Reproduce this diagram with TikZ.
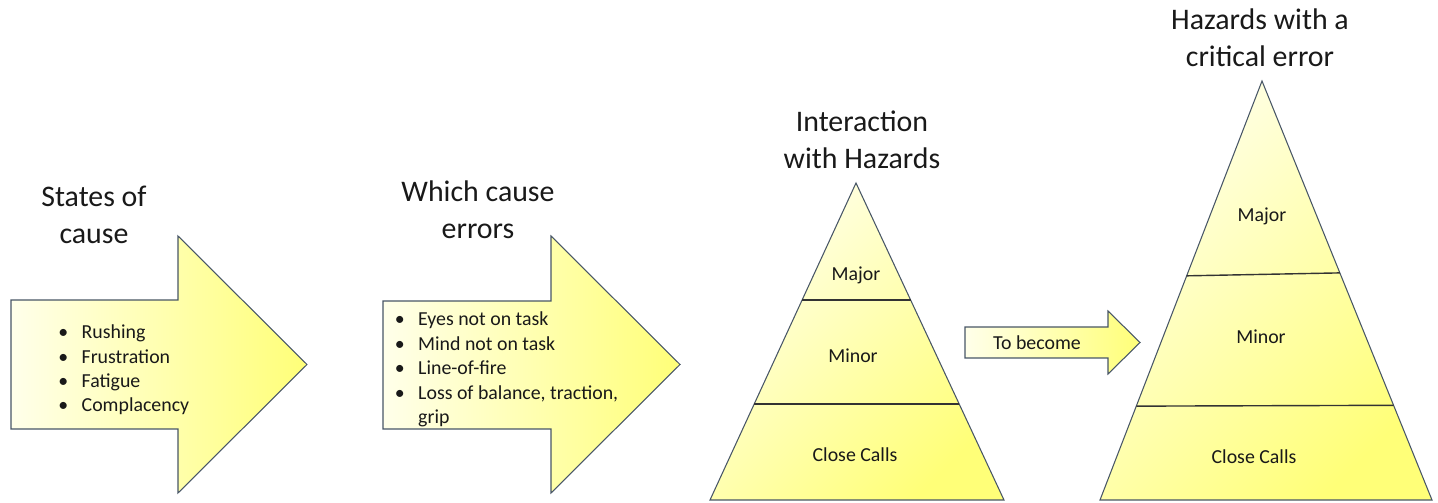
\documentclass[tikz,border=0pt]{standalone}
\usepackage{fontspec}
\setmainfont{Carlito}
\usetikzlibrary{calc}
\definecolor{paleyel}{RGB}{255,255,234}
\definecolor{deepyel}{RGB}{255,255,120}
\definecolor{edgeblue}{RGB}{72,86,102}
\newcommand{\blt}{\makebox[13.3pt][l]{\textbullet}}

\begin{document}
\begin{tikzpicture}[x=0.02cm,y=-0.02cm,
    yelshape/.style={draw=edgeblue,line width=0.6pt,left color=paleyel,right color=deepyel},
    yelpyr/.style={yelshape,shading angle=45},
    tierline/.style={draw=black!80,line width=0.8pt},
    heading/.style={align=center,font=\fontsize{17}{20.8}\selectfont,text=black!90,inner sep=0pt},
    tiertext/.style={font=\fontsize{11.3}{13.9}\selectfont,text=black!90,inner sep=0pt,anchor=base},
    bullets/.style={align=left,font=\fontsize{11.3}{13.9}\selectfont,text=black!90,inner sep=0pt,anchor=west}]
  \useasboundingbox (0,0) rectangle (1438,503);

  \shadedraw[yelshape] (11,300) -- (178,300) -- (178,236) -- (307,364.5) -- (178,493) -- (178,429) -- (11,429) -- cycle;
  \shadedraw[yelshape] (383,301) -- (551,301) -- (551,236) -- (680,364.5) -- (551,493) -- (551,429) -- (383,429) -- cycle;
  \shadedraw[yelshape] (965,327) -- (1108,327) -- (1108,311) -- (1140,342.5) -- (1108,374) -- (1108,358) -- (965,358) -- cycle;

  \coordinate (pa) at (856,183);
  \coordinate (pal) at (710,500);
  \coordinate (par) at (1004,500);
  \coordinate (pb) at (1262,81);
  \coordinate (pbl) at (1100,500);
  \coordinate (pbr) at (1432,500);
  \shadedraw[yelpyr] (pa) -- (par) -- (pal) -- cycle;
  \shadedraw[yelpyr] (pb) -- (pbr) -- (pbl) -- cycle;
  \draw[tierline] ($(pa)!0.369!(pal)$) -- ($(pa)!0.369!(par)$);
  \draw[tierline] ($(pa)!0.697!(pal)$) -- ($(pa)!0.697!(par)$);
  \draw[tierline] ($(pb)!0.465!(pbl)$) -- ($(pb)!0.458!(pbr)$);
  \draw[tierline] ($(pb)!0.776!(pbl)$) -- ($(pb)!0.774!(pbr)$);

  \node[heading] (states) at (94,215) {States of\\cause};
  \node[heading] (which) at (478,210) {Which cause\\errors};
  \node[heading] (inter) at (862,140) {Interaction\\with Hazards};
  \node[heading] (crit) at (1260,38) {Hazards with a\\critical error};

  \node[bullets] (causes) at (58,370) {\blt Rushing\\\blt Frustration\\\blt Fatigue\\\blt Complacency};
  \node[bullets] (errors) at (394.5,369.5) {\blt Eyes not on task\\\blt Mind not on task\\\blt Line-of-fire\\\blt Loss of balance, traction,\\\hspace*{13.3pt}grip};

  \node[tiertext] (majora) at (856,281) {Major};
  \node[tiertext] (minora) at (853,363) {Minor};
  \node[tiertext] (closea) at (855,461) {Close Calls};
  \node[tiertext] (become) at (1037,350) {To become};
  \node[tiertext] (majorb) at (1262,222) {Major};
  \node[tiertext] (minorb) at (1261,344) {Minor};
  \node[tiertext] (closeb) at (1254,463) {Close Calls};
\end{tikzpicture}
\end{document}
